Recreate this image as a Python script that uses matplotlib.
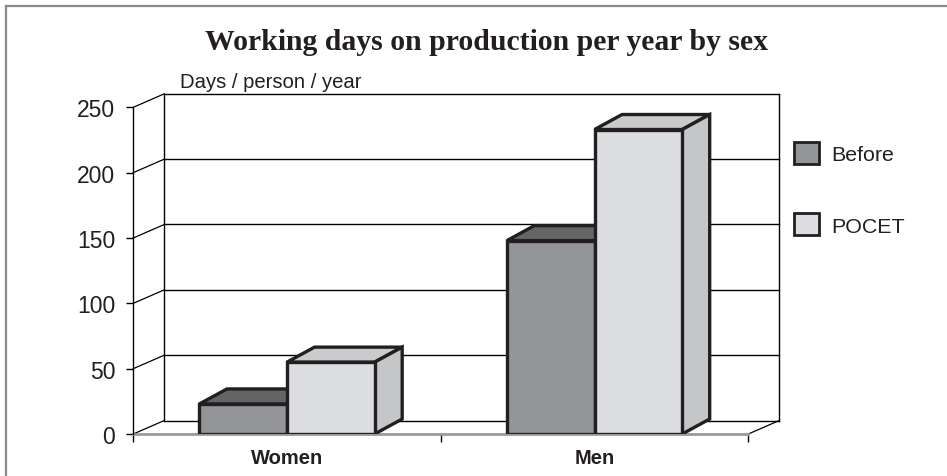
import matplotlib
matplotlib.use("Agg")
import matplotlib.pyplot as plt
from matplotlib.patches import Polygon, Patch
import numpy as np

categories = ["Women", "Men"]
series = ["Before", "POCET"]
before = [23, 148]
pocet = [55, 233]
yticks = [0, 50, 100, 150, 200, 250]

W, H = 947, 477
fig = plt.figure(figsize=(W / 100, H / 100), dpi=100)

# front plane of the 3d box, in pixels
left_px, right_px, top_px, bot_px = 133.3, 748.3, 108.3, 435.0
ax = fig.add_axes([left_px / W, (H - bot_px) / H, (right_px - left_px) / W, (bot_px - top_px) / H])
ax.set_xlim(-0.5, 1.5)
ax.set_ylim(0, 250)

# pixel -> data scale
sx = 2.0 / (right_px - left_px)
sy = 250.0 / (bot_px - top_px)

edge = "#231f20"
c_before = "#939598"
c_before_top = "#646566"
c_pocet = "#dcdde0"
c_pocet_side = "#c5c6c8"
c_pocet_top = "#c9cacc"

# back wall and floor
wdx, wdy = 31 * sx, 13.5 * sy
x0, x1 = -0.5, 1.5
for v in yticks:
    ax.plot([x0 + wdx, x1 + wdx], [v + wdy, v + wdy], color="black", lw=1, zorder=1, clip_on=False)
    ax.plot([x0, x0 + wdx], [v, v + wdy], color="black", lw=0.9, zorder=1, clip_on=False)
ax.plot([x0 + wdx, x0 + wdx], [wdy, 250 + wdy], color="black", lw=1, zorder=1, clip_on=False)
ax.plot([x1 + wdx, x1 + wdx], [wdy, 250 + wdy], color="black", lw=1, zorder=1, clip_on=False)
ax.plot([x1, x1 + wdx], [0, wdy], color="black", lw=0.9, zorder=1, clip_on=False)

# bars
bw = 0.285
bdx, bdy = 27.5 * sx, 15 * sy
xs = np.arange(len(categories))
lw = 2.4
for i in range(len(categories)):
    xa = xs[i] - bw
    xb = xs[i]
    xc = xs[i] + bw
    hb = before[i]
    hp = pocet[i]
    # Before
    ax.add_patch(Polygon([(xa, hb), (xb, hb), (xb + bdx, hb + bdy), (xa + bdx, hb + bdy)],
                         closed=True, fc=c_before_top, ec=edge, lw=lw, zorder=3, joinstyle="miter"))
    ax.add_patch(Polygon([(xb, 0), (xb + bdx, bdy), (xb + bdx, hb + bdy), (xb, hb)],
                         closed=True, fc=c_before, ec=edge, lw=lw, zorder=3))
    ax.bar(xa, hb, width=bw, align="edge", color=c_before, edgecolor=edge, lw=lw, zorder=4)
    # POCET
    ax.add_patch(Polygon([(xb, hp), (xc, hp), (xc + bdx, hp + bdy), (xb + bdx, hp + bdy)],
                         closed=True, fc=c_pocet_top, ec=edge, lw=lw, zorder=5, joinstyle="miter"))
    ax.add_patch(Polygon([(xc, 0), (xc + bdx, bdy), (xc + bdx, hp + bdy), (xc, hp)],
                         closed=True, fc=c_pocet_side, ec=edge, lw=lw, zorder=5, joinstyle="miter"))
    ax.bar(xb, hp, width=bw, align="edge", color=c_pocet, edgecolor=edge, lw=lw, zorder=6)

# axes styling
for s in ["top", "right"]:
    ax.spines[s].set_visible(False)
ax.patch.set_alpha(0)
ax.spines["left"].set_color("black")
ax.spines["left"].set_linewidth(1)
ax.spines["bottom"].set_color("#9a9a9a")
ax.spines["bottom"].set_linewidth(2)
ax.spines["bottom"].set_zorder(2)

ax.set_yticks(yticks)
ax.set_yticklabels([str(v) for v in yticks], fontsize=16.5, family="Liberation Sans", color="#231f20")
ax.tick_params(axis="y", length=5, width=1, pad=8, color="black")

ax.set_xticks(xs)
ax.set_xticklabels(categories, fontsize=14.5, fontweight="bold", family="Liberation Sans", color="#231f20")
ax.set_xticks([-0.5, 0.5, 1.5], minor=True)
ax.tick_params(axis="x", which="major", length=0, pad=10)
ax.tick_params(axis="x", which="minor", length=6, width=1, color="black")

# legend
handles = [Patch(fc=c_before, ec=edge, lw=2), Patch(fc=c_pocet, ec=edge, lw=2)]
fig.legend(handles, series, loc="upper left", bbox_to_anchor=(794 / W, 1 - 143 / H),
           frameon=False, prop={"family": "Liberation Sans", "size": 15.4},
           handlelength=1.15, handleheight=1.2, handletextpad=0.6,
           labelspacing=2.3, borderpad=0, borderaxespad=0, labelcolor="#231f20")

# title and unit label
fig.text(486 / W, 1 - 43 / H, "Working days on production per year by sex", ha="center", va="center",
         fontsize=21.4, fontweight="bold", family="Liberation Serif", color="#231f20")
fig.text(180 / W, 1 - 87.5 / H, "Days / person / year", ha="left", va="baseline",
         fontsize=14.6, family="Liberation Sans", color="#231f20")

# outer frame (top and left)
fig.add_artist(plt.Line2D([6 / W, 1], [1 - 7 / H, 1 - 7 / H], color="#8a8a8a", lw=1.6, transform=fig.transFigure))
fig.add_artist(plt.Line2D([6 / W, 6 / W], [0, 1 - 7 / H], color="#8a8a8a", lw=1.6, transform=fig.transFigure))

fig.savefig("out.png", dpi=100)
